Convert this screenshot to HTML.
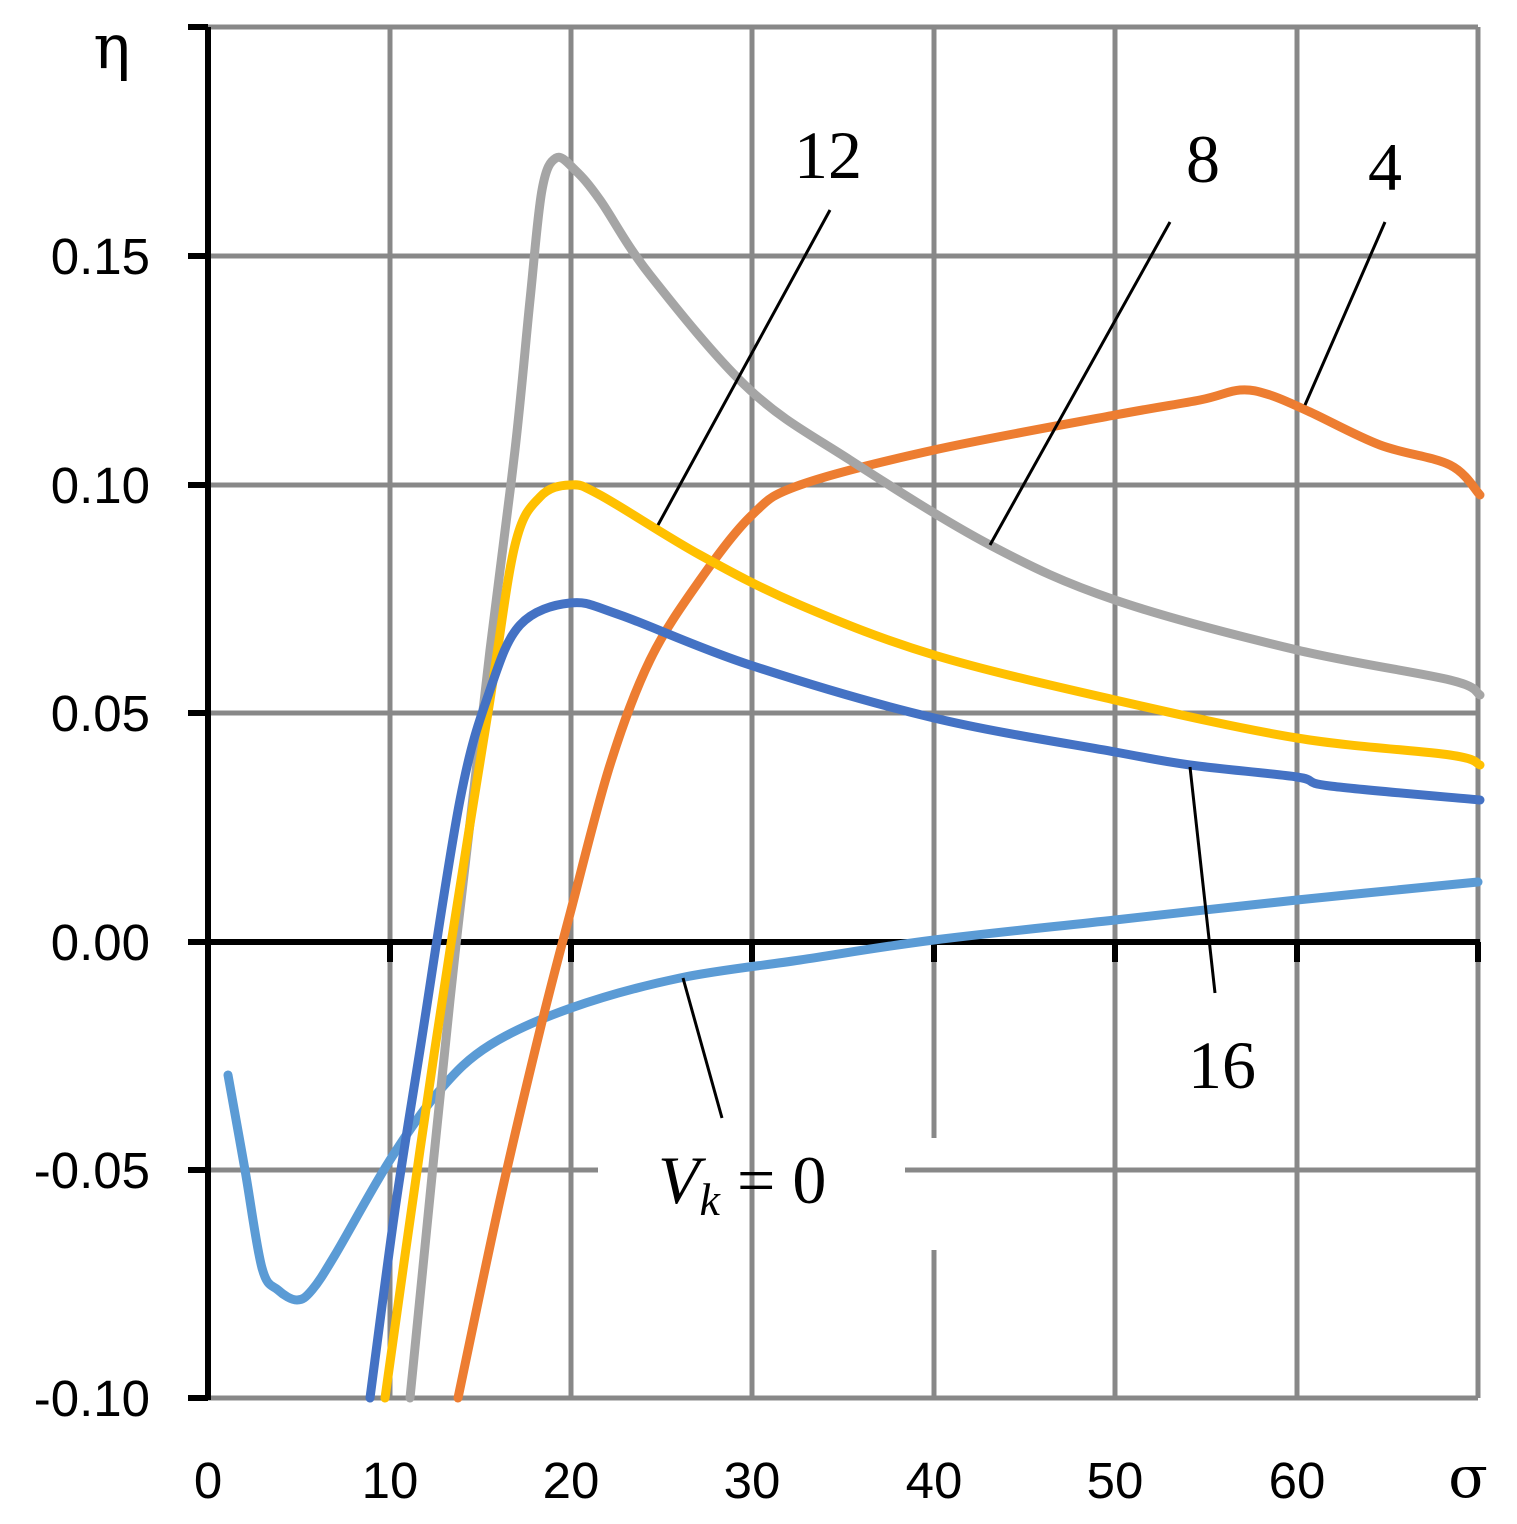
<!DOCTYPE html>
<html><head><meta charset="utf-8"><style>
html,body{margin:0;padding:0;background:#fff}
svg{display:block}
.t{font-family:"Liberation Sans",sans-serif;font-size:51px;fill:#000}
.s{font-family:"Liberation Serif",serif;font-size:68px;fill:#000}
</style></head><body>
<svg width="1517" height="1524" viewBox="0 0 1517 1524" xmlns="http://www.w3.org/2000/svg">
<g stroke="#888" stroke-width="5" fill="none">
<line x1="208" y1="27" x2="1478" y2="27"/>
<line x1="208" y1="256" x2="1478" y2="256"/>
<line x1="208" y1="485" x2="1478" y2="485"/>
<line x1="208" y1="713" x2="1478" y2="713"/>
<line x1="208" y1="1170" x2="598" y2="1170"/>
<line x1="905" y1="1170" x2="1478" y2="1170"/>
<line x1="208" y1="1398" x2="1478" y2="1398"/>
<line x1="390" y1="27" x2="390" y2="1398"/>
<line x1="571" y1="27" x2="571" y2="1398"/>
<line x1="752" y1="27" x2="752" y2="1398"/>
<line x1="934" y1="27" x2="934" y2="1138"/>
<line x1="934" y1="1250" x2="934" y2="1398"/>
<line x1="1115" y1="27" x2="1115" y2="1398"/>
<line x1="1297" y1="27" x2="1297" y2="1398"/>
<line x1="1478" y1="27" x2="1478" y2="1398"/>
</g>
<g stroke="#000" stroke-width="6" fill="none">
<line x1="208" y1="27" x2="208" y2="1400"/>
<line x1="208" y1="942" x2="1480" y2="942"/>
<line x1="188" y1="27" x2="208" y2="27"/>
<line x1="188" y1="256" x2="208" y2="256"/>
<line x1="188" y1="485" x2="208" y2="485"/>
<line x1="188" y1="713" x2="208" y2="713"/>
<line x1="188" y1="942" x2="208" y2="942"/>
<line x1="188" y1="1170" x2="208" y2="1170"/>
<line x1="188" y1="1398" x2="208" y2="1398"/>
<line x1="390" y1="942" x2="390" y2="962"/>
<line x1="571" y1="942" x2="571" y2="962"/>
<line x1="752" y1="942" x2="752" y2="962"/>
<line x1="934" y1="942" x2="934" y2="962"/>
<line x1="1115" y1="942" x2="1115" y2="962"/>
<line x1="1297" y1="942" x2="1297" y2="962"/>
<line x1="1478" y1="942" x2="1478" y2="962"/>
</g>
<g class="t" text-anchor="end">
<text x="150" y="274">0.15</text>
<text x="150" y="503">0.10</text>
<text x="150" y="731">0.05</text>
<text x="150" y="960">0.00</text>
<text x="150" y="1188">-0.05</text>
<text x="150" y="1416">-0.10</text>
</g>
<g class="t" text-anchor="middle">
<text x="208" y="1498">0</text>
<text x="390" y="1498">10</text>
<text x="571" y="1498">20</text>
<text x="752" y="1498">30</text>
<text x="934" y="1498">40</text>
<text x="1115" y="1498">50</text>
<text x="1297" y="1498">60</text>
</g>
<text x="112" y="68" text-anchor="middle" style="font-family:'DejaVu Serif',serif;font-size:62px">η</text>
<text x="1468" y="1497" text-anchor="middle" style="font-family:'DejaVu Serif',serif;font-size:58px">σ</text>
<g id="curves" fill="none" stroke-width="9" stroke-linejoin="round" stroke-linecap="round">
<path stroke="#5B9BD5" data-p="228,1075 245,1170 262,1268 278,1290 297,1300 312,1290 335,1255 390,1160 440,1090 490,1045 571,1008 680,978 800,960 934,940 1115,920 1297,900 1478,882"/>
<path stroke="#ED7D31" data-p="458,1398 500,1200 540,1030 571,910 610,765 650,660 700,580 752,515 800,485 934,450 1115,415 1200,400 1240,390 1270,395 1310,412 1380,445 1450,465 1480,495"/>
<path stroke="#A5A5A5" data-p="410,1398 450,1000 490,650 515,450 530,300 542,190 556,158 575,170 600,200 650,275 750,390 850,460 990,545 1115,600 1297,650 1450,680 1480,695"/>
<path stroke="#FFC000" data-p="385,1398 420,1150 450,950 490,700 515,545 540,497 570,485 600,495 700,555 800,605 934,655 1115,700 1297,738 1450,755 1480,765"/>
<path stroke="#4472C4" data-p="370,1398 395,1210 420,1050 460,800 490,690 520,625 570,603 620,615 750,665 934,718 1115,752 1190,765 1297,777 1330,786 1480,800"/>
</g>
<g stroke="#000" stroke-width="3">
<line x1="830" y1="210" x2="658" y2="525"/>
<line x1="1170" y1="222" x2="990" y2="545"/>
<line x1="1385" y1="222" x2="1305" y2="405"/>
<line x1="1190" y1="767" x2="1215" y2="993"/>
<line x1="683" y1="978" x2="722" y2="1118"/>
</g>
<g class="s" text-anchor="middle">
<text x="828" y="178">12</text>
<text x="1203" y="182">8</text>
<text x="1385" y="190">4</text>
<text x="1222" y="1088">16</text>
</g>
<text x="658" y="1203" class="s"><tspan font-style="italic">V</tspan><tspan font-style="italic" font-size="46" dy="12">k</tspan><tspan dy="-12"> = 0</tspan></text>
</svg>
<script>
document.querySelectorAll('#curves path').forEach(function(el){
var p=el.getAttribute('data-p').trim().split(/\s+/).map(function(s){return s.split(',').map(Number);});
var d='M'+p[0][0]+','+p[0][1];
for(var i=0;i<p.length-1;i++){
var p0=p[i-1]||p[i],p1=p[i],p2=p[i+1],p3=p[i+2]||p2,t=6;
var c1=[p1[0]+(p2[0]-p0[0])/t,p1[1]+(p2[1]-p0[1])/t];
var c2=[p2[0]-(p3[0]-p1[0])/t,p2[1]-(p3[1]-p1[1])/t];
d+=' C'+c1[0]+','+c1[1]+' '+c2[0]+','+c2[1]+' '+p2[0]+','+p2[1];
}
el.setAttribute('d',d);el.removeAttribute('data-p');
});
</script>
</body></html>
